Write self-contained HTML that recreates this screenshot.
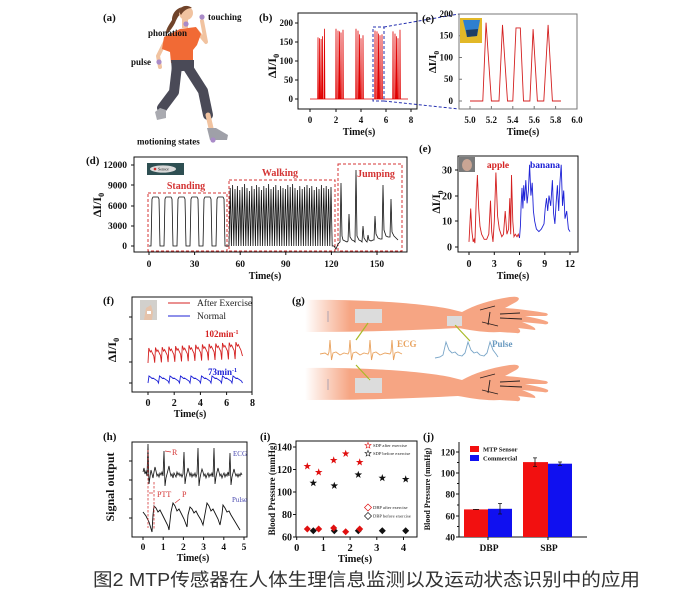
<!DOCTYPE html>
<html><head><meta charset="utf-8"><style>
html,body{margin:0;padding:0;background:#fff;}
svg{display:block;}
.s{font-family:"Liberation Serif",serif;font-weight:bold;fill:#111;}
.r{font-family:"Liberation Serif",serif;fill:#222;}
</style></head><body>
<svg width="696" height="597" viewBox="0 0 696 597" xmlns="http://www.w3.org/2000/svg">
<defs>
<path id="star" d="M0,-4 L0.94,-1.29 L3.8,-1.24 L1.52,0.49 L2.35,3.24 L0,1.6 L-2.35,3.24 L-1.52,0.49 L-3.8,-1.24 L-0.94,-1.29 Z"/>
<path id="dia" d="M0,-3.5 L3.5,0 L0,3.5 L-3.5,0 Z"/>
<pattern id="dots" width="2" height="2" patternUnits="userSpaceOnUse"><rect width="2" height="2" fill="#f2f2f2"/><circle cx="1" cy="1" r="0.45" fill="#707070"/></pattern>
<linearGradient id="fade" x1="305" y1="0" x2="350" y2="0" gradientUnits="userSpaceOnUse"><stop offset="0" stop-color="#F6A583" stop-opacity="0"/><stop offset="1" stop-color="#F6A583" stop-opacity="1"/></linearGradient>
</defs>
<rect width="696" height="597" fill="#fff"/>

<!-- ===== (a) runner ===== -->
<text class="s" x="103" y="21" font-size="11">(a)</text>
<path d="M183,7 C176,8 172,14 172,20 C169,25 165,30 166,35 C170,31 173,27 175,23 C177,18 179,14 184,12 Z" fill="#70432A"/>
<circle cx="186" cy="13" r="7" fill="#F1C3A0"/>
<path d="M179,12 C180,6 187,4 192,8 C188,8 184,10 181,15 Z" fill="#70432A"/>
<rect x="182" y="19" width="6" height="9" fill="#F1C3A0"/>
<path d="M196,30 L206,42 L202,21" fill="none" stroke="#F1C3A0" stroke-width="4" stroke-linecap="round" stroke-linejoin="round"/>
<path d="M166,40 L158,56 L160,67" fill="none" stroke="#F1C3A0" stroke-width="4" stroke-linecap="round" stroke-linejoin="round"/>
<path d="M164,37 L180,29 L196,27 L201,34 L197,45 L193,50 L193,63 L171,63 L170,52 L162,49 Z" fill="#F16A35"/>
<path d="M177,66 L174,92 L162,108" fill="none" stroke="#4A4A57" stroke-width="10" stroke-linecap="round" stroke-linejoin="round"/>
<path d="M187,66 L203,91 L208,115" fill="none" stroke="#4A4A57" stroke-width="10" stroke-linecap="round" stroke-linejoin="round"/>
<path d="M171,60 L194,60 L194,70 L172,72 Z" fill="#4A4A57"/>
<path d="M208,115 L211,128" stroke="#F1C3A0" stroke-width="5" stroke-linecap="round"/>
<path d="M160,108 L155,112 L157,120 L166,118 L166,110 Z" fill="#A9AAB0"/>
<path d="M207,128 L210,140 L227,140 L228,135 L216,128 Z" fill="#9FA0A8"/>
<circle cx="202" cy="17" r="2.6" fill="#A98BC8"/>
<circle cx="186" cy="24" r="2.6" fill="#A98BC8"/>
<circle cx="159" cy="62" r="2.6" fill="#A98BC8"/>
<circle cx="213" cy="140" r="2.6" fill="#A98BC8"/>
<text class="s" x="208" y="20" font-size="9">touching</text>
<text class="s" x="148" y="36" font-size="9">phonation</text>
<text class="s" x="131" y="65" font-size="9">pulse</text>
<text class="s" x="137" y="144.5" font-size="9">motioning states</text>

<!-- ===== (b) ===== -->
<text class="s" x="259" y="21" font-size="11">(b)</text>
<rect x="298" y="13" width="119" height="96" fill="none" stroke="#111" stroke-width="1"/>
<g stroke="#111" stroke-width="1">
<path d="M310,109v3M336,109v3M361,109v3M386,109v3M411,109v3M298,23h-3M298,42h-3M298,61h-3M298,80h-3M298,99h-3"/>
</g>
<g class="s" font-size="9" text-anchor="end">
<text x="293" y="26">200</text><text x="293" y="45">150</text><text x="293" y="64">100</text><text x="293" y="83">50</text><text x="293" y="102">0</text>
</g>
<g class="s" font-size="9" text-anchor="middle">
<text x="310" y="123">0</text><text x="336" y="123">2</text><text x="361" y="123">4</text><text x="386" y="123">6</text><text x="411" y="123">8</text>
<text x="359" y="135" font-size="10">Time(s)</text>
</g>
<text class="s" font-size="12" text-anchor="middle" transform="translate(276,66) rotate(-90)">ΔI/I<tspan dy="3" font-size="8">0</tspan></text>
<path fill="none" stroke="#E00000" stroke-width="0.8" d="M310,99 L317.7,99 L318,37.4 L318.4,99 L319.3,99 L319.6,38.2 L320,99 L320.8,99 L321.1,39 L321.5,99 L322.3,99 L322.6,36.3 L323,99 L324.2,99 L324.5,28.7 L324.9,99
L335.7,99 L336,28.7 L336.4,99 L337.7,99 L338,30.6 L338.4,99 L339.2,99 L339.5,31.4 L339.9,99 L340.7,99 L341,32.5 L341.4,99 L342.7,99 L343,29.8 L343.4,99
L355.7,99 L356,28.7 L356.4,99 L357.7,99 L358,30.6 L358.4,99 L359.2,99 L359.5,34.4 L359.9,99 L360.7,99 L361,38.2 L361.4,99 L362.7,99 L363,35.2 L363.4,99
L374.7,99 L375,30.6 L375.4,99 L376.7,99 L377,31.4 L377.4,99 L378.2,99 L378.5,33.6 L378.9,99 L379.7,99 L380,35.2 L380.4,99 L381.7,99 L382,34.4 L382.4,99
L392.7,99 L393,31.4 L393.4,99 L394.7,99 L395,33.6 L395.4,99 L396.2,99 L396.5,36.3 L396.9,99 L397.7,99 L398,38.2 L398.4,99 L399.7,99 L400,29.8 L400.4,99 L408,99"/>
<rect x="373" y="27" width="11" height="74" fill="none" stroke="#2530B0" stroke-width="1" stroke-dasharray="3,2"/>
<path d="M384,27 L459,14 M384,101 L459,109" stroke="#2530B0" stroke-width="1" stroke-dasharray="3,2" fill="none"/>

<!-- ===== (e) top zoom ===== -->
<text class="s" x="422" y="22" font-size="11">(e)</text>
<rect x="459" y="14" width="118" height="95" fill="none" stroke="#777" stroke-width="1"/>
<g stroke="#777" stroke-width="1"><path d="M470,109v-3M491.4,109v-3M512.8,109v-3M534.2,109v-3M555.6,109v-3M459,14h3M459,35.75h3M459,57.5h3M459,79.25h3M459,101h3"/></g>
<g class="s" font-size="9" text-anchor="end">
<text x="453" y="17">200</text><text x="453" y="38.5">150</text><text x="453" y="60.5">100</text><text x="453" y="82">50</text><text x="453" y="104">0</text>
</g>
<g class="s" font-size="9" text-anchor="middle">
<text x="470" y="123">5.0</text><text x="491.4" y="123">5.2</text><text x="512.8" y="123">5.4</text><text x="534.2" y="123">5.6</text><text x="555.6" y="123">5.8</text><text x="577" y="123">6.0</text>
<text x="523" y="135" font-size="10">Time(s)</text>
</g>
<text class="s" font-size="11" text-anchor="middle" transform="translate(436,62) rotate(-90)">ΔI/I<tspan dy="3" font-size="7.5">0</tspan></text>
<rect x="460" y="18" width="22" height="25" fill="#E2B828"/>
<path d="M463,20 L480,20 L477,36 L467,37 Z" fill="#2E7FD0"/>
<path d="M466,30 L478,29 L477,36 L467,37 Z" fill="#1D3E66"/>
<path fill="none" stroke="#D42020" stroke-width="0.9" d="M470,101 L482.8,101 L486.05,22.7 L491.4,101 L499,101 L502.5,24.9 L507.5,101 L512.8,101 L516,27.9 L520.3,27.9 L523.5,101 L529.9,101 L533.1,29.2 L537.4,101 L543.8,101 L548.1,24.9 L552.4,101 L561,101"/>

<!-- ===== (d) ===== -->
<text class="s" x="86" y="164" font-size="11">(d)</text>
<rect x="134" y="157" width="273" height="95" fill="none" stroke="#111" stroke-width="1"/>
<g stroke="#111" stroke-width="1"><path d="M149,252v3M194.6,252v3M240.2,252v3M285.8,252v3M331.4,252v3M377,252v3M134,165h-3M134,185h-3M134,206h-3M134,226h-3M134,246h-3"/></g>
<g class="s" font-size="9.5" text-anchor="end">
<text x="127" y="168">12000</text><text x="127" y="188.5">9000</text><text x="127" y="209">6000</text><text x="127" y="229">3000</text><text x="127" y="249">0</text>
</g>
<g class="s" font-size="9.5" text-anchor="middle">
<text x="149" y="267">0</text><text x="194.6" y="267">30</text><text x="240.2" y="267">60</text><text x="285.8" y="267">90</text><text x="331.4" y="267">120</text><text x="377" y="267">150</text>
<text x="265" y="279" font-size="10">Time(s)</text>
</g>
<text class="s" font-size="12" text-anchor="middle" transform="translate(101,205) rotate(-90)">ΔI/I<tspan dy="3" font-size="8">0</tspan></text>
<rect x="147" y="163" width="37" height="12" fill="#2E4F52"/>
<ellipse cx="163" cy="169" rx="13" ry="3.6" fill="#DADADA"/>
<circle cx="155" cy="169" r="1.3" fill="#D03030"/>
<text class="r" x="158" y="170.5" font-size="4">Sensor</text>
<g fill="none" stroke="#D43535" stroke-width="1" stroke-dasharray="3,2">
<rect x="148" y="193" width="79" height="58"/>
<rect x="229" y="180" width="106" height="71"/>
<rect x="338" y="164" width="64" height="87"/>
</g>
<g class="s" font-size="10" text-anchor="middle" style="fill:#D43535">
<text x="186" y="189" style="fill:#D43535">Standing</text><text x="280" y="176" style="fill:#D43535">Walking</text><text x="376" y="177" style="fill:#D43535">Jumping</text>
</g>
<path fill="none" stroke="#111" stroke-width="0.8" d="M149,246 L151,246 L152,199 L153,197 L158,197 L159,199 L160,246 L164,246 L165,199 L166,197 L171,197 L172,199 L173,246 L177,246 L178,199 L179,197 L184,197 L185,199 L186,246 L190,246 L191,199 L192,197 L197,197 L198,199 L199,246 L203,246 L204,199 L205,197 L210,197 L211,199 L212,246 L216,246 L217,199 L218,197 L223,197 L224,199 L225,246 L229,246"/>
<path fill="none" stroke="#111" stroke-width="0.8" d="M229,246 l1.2,-58 l1.2,58 l1.2,-61 l1.2,61 l1.2,-57 l1.2,57 l1.2,-60 l1.2,60 l1.2,-56 l1.2,56 l1.2,-59 l1.2,59 l1.2,-62 l1.2,62 l1.2,-58 l1.2,58 l1.2,-55 l1.2,55 l1.2,-60 l1.2,60 l1.2,-57 l1.2,57 l1.2,-61 l1.2,61 l1.2,-59 l1.2,59 l1.2,-56 l1.2,56 l1.2,-60 l1.2,60 l1.2,-58 l1.2,58 l1.2,-62 l1.2,62 l1.2,-57 l1.2,57 l1.2,-59 l1.2,59 l1.2,-61 l1.2,61 l1.2,-56 l1.2,56 l1.2,-60 l1.2,60 l1.2,-58 l1.2,58 l1.2,-57 l1.2,57 l1.2,-61 l1.2,61 l1.2,-59 l1.2,59 l1.2,-62 l1.2,62 l1.2,-58 l1.2,58 l1.2,-56 l1.2,56 l1.2,-60 l1.2,60 l1.2,-57 l1.2,57 l1.2,-59 l1.2,59 l1.2,-61 l1.2,61 l1.2,-58 l1.2,58 l1.2,-60 l1.2,60 l1.2,-56 l1.2,56 l1.2,-59 l1.2,59 l1.2,-57 l1.2,57 l1.2,-61 l1.2,61 l1.2,-58 l1.2,58 l1.2,-60 l1.2,60 l1.2,-57 l1.2,57 l1.2,-59 l1.2,59 l2,0"/>
<path fill="none" stroke="#111" stroke-width="0.8" d="M334,246 L336,249 L338,244 L340,242 L341,183 L342,236 L343,240 L345,241 L347,242 L348,241 L349,214 L350,237 L352,240 L354,241 L355,242 L356,170 L357,236 L359,240 L361,241 L362,242 L363,226 L364,238 L366,241 L367,242 L368,235 L369,240 L371,241 L373,240 L374,240 L375,216 L376,234 L378,238 L380,239 L382,239 L383,185 L384,230 L386,236 L388,237 L390,237 L391,199 L392,232 L394,236 L396,238 L398,240"/>

<!-- ===== (e) food ===== -->
<text class="s" x="419" y="152" font-size="11">(e)</text>
<rect x="458" y="156" width="120" height="96" fill="none" stroke="#111" stroke-width="1"/>
<g stroke="#111" stroke-width="1"><path d="M469,252v3M494.3,252v3M519.5,252v3M544.8,252v3M570,252v3M458,170h-3M458,196h-3M458,221h-3M458,247h-3"/></g>
<g class="s" font-size="10" text-anchor="end">
<text x="452" y="173.5">30</text><text x="452" y="199.5">20</text><text x="452" y="224.5">10</text><text x="452" y="250.5">0</text>
</g>
<g class="s" font-size="10" text-anchor="middle">
<text x="469" y="267">0</text><text x="494.3" y="267">3</text><text x="519.5" y="267">6</text><text x="544.8" y="267">9</text><text x="570" y="267">12</text>
<text x="513" y="279" font-size="10">Time(s)</text>
</g>
<text class="s" font-size="11.5" text-anchor="middle" transform="translate(440,202) rotate(-90)">ΔI/I<tspan dy="3" font-size="7.5">0</tspan></text>
<rect x="459" y="157" width="16" height="15" fill="#7A7A7A"/>
<ellipse cx="467" cy="165" rx="5" ry="6" fill="#C9A594"/>
<text class="s" x="498" y="168" font-size="9.5" text-anchor="middle" style="fill:#D42020">apple</text>
<text class="s" x="545" y="168" font-size="9.5" text-anchor="middle" style="fill:#1E22D6">banana</text>
<path fill="none" stroke="#D42020" stroke-width="0.9" d="M469,241.9 L470.7,208.5 L471.9,231.6 L473.2,241.9 L474.1,239.3 L474.9,243.1 L476.2,200.7 L477.4,175 L478.7,208.5 L480,226.4 L481.6,234.2 L484.2,239.3 L486.7,239.3 L488.8,234.2 L490.5,200.7 L491.7,231.6 L493,241.9 L494.3,221.3 L495.9,172.5 L497.6,216.2 L499.3,229 L501.8,236.7 L503.5,234.2 L505.2,211 L506.9,234.2 L508.6,229 L509.8,198.2 L510.7,234.2 L511.5,175 L512.8,221.3 L514,236.7 L515.3,234.2 L517,236.7 L518.3,234.2 L519.5,238"/>
<path fill="none" stroke="#1E22D6" stroke-width="0.9" d="M519.5,238 L520.4,226.4 L521.2,203.3 L522,187.9 L522.9,208.5 L523.7,185.3 L524.6,200.7 L525.8,180.2 L527.1,203.3 L528.4,190.5 L529.6,164.8 L530.9,195.6 L532.2,182.8 L533.4,211 L534.7,221.3 L536.4,229 L538.9,231.6 L541.4,229 L544,223.9 L545.2,208.5 L546.5,198.2 L547.7,211 L549,195.6 L550.7,205.9 L552.4,180.2 L553.6,213.6 L554.9,223.9 L556.1,203.3 L557.4,185.3 L558.7,211 L559.9,182.8 L561.2,164.8 L562.5,205.9 L563.7,190.5 L565,218.7 L566.7,211 L568.4,229 L570,231.6"/>

<!-- ===== (f) ===== -->
<text class="s" x="103" y="304" font-size="11">(f)</text>
<rect x="132" y="297" width="120" height="95" fill="none" stroke="#111" stroke-width="1"/>
<g stroke="#111" stroke-width="1"><path d="M148,392v3M174.2,392v3M200.4,392v3M226.6,392v3M252,392v3M132,317h-3M132,339h-3M132,362h-3M132,383h-3"/></g>
<g class="s" font-size="10" text-anchor="middle">
<text x="148" y="406">0</text><text x="174.2" y="406">2</text><text x="200.4" y="406">4</text><text x="226.6" y="406">6</text><text x="252.5" y="406">8</text>
<text x="190" y="417" font-size="10">Time(s)</text>
</g>
<text class="s" font-size="12" text-anchor="middle" transform="translate(116,350) rotate(-90)">ΔI/I<tspan dy="3" font-size="8">0</tspan></text>
<rect x="140" y="300" width="17" height="20" fill="#D2D0CC"/>
<path d="M144,320 L146,308 L151,305 L153,312 L152,320 Z" fill="#E6C3AA"/>
<rect x="147" y="311" width="4" height="3" fill="#fff"/>
<path d="M168,303 H190" stroke="#D42020" stroke-width="1"/>
<path d="M168,316 H190" stroke="#1E22D6" stroke-width="1"/>
<text class="r" x="197" y="306" font-size="9.5">After Exercise</text>
<text class="r" x="197" y="319" font-size="9.5">Normal</text>
<text class="s" x="205" y="337" font-size="9" style="fill:#D42020">102min<tspan dy="-3" font-size="6">-1</tspan></text>
<text class="s" x="208" y="375" font-size="9" style="fill:#1E22D6">73min<tspan dy="-3" font-size="6">-1</tspan></text>
<path fill="none" stroke="#D42020" stroke-width="0.9" d="M148,363 L148.8,348 L150.2,352 L151.2,350.5 L152.8,354 L153.8,356 L154.7,362.7 L155.5,347.5 L156.9,351.5 L157.9,350 L159.5,353.5 L160.5,355.5 L161.4,362.4 L162.2,347.1 L163.6,351.1 L164.6,349.6 L166.2,353.1 L167.2,355.1 L168.1,362.1 L168.9,346.6 L170.3,350.6 L171.3,349.1 L172.9,352.6 L173.9,354.6 L174.8,361.8 L175.6,346.2 L177,350.2 L178,348.7 L179.6,352.2 L180.6,354.2 L181.5,361.5 L182.3,345.7 L183.7,349.7 L184.7,348.2 L186.3,351.7 L187.3,353.7 L188.2,361.2 L189,345.3 L190.4,349.3 L191.4,347.8 L193,351.3 L194,353.3 L194.9,360.9 L195.7,344.8 L197.1,348.8 L198.1,347.3 L199.7,350.8 L200.7,352.8 L201.6,360.6 L202.4,344.4 L203.8,348.4 L204.8,346.9 L206.4,350.4 L207.4,352.4 L208.3,360.3 L209.1,343.9 L210.5,347.9 L211.5,346.4 L213.1,349.9 L214.1,351.9 L215,360 L215.8,343.5 L217.2,347.5 L218.2,346 L219.8,349.5 L220.8,351.5 L221.7,359.7 L222.5,343 L223.9,347 L224.9,345.5 L226.5,349 L227.5,351 L228.4,359.4 L229.2,342.6 L230.6,346.6 L231.6,345.1 L233.2,348.6 L234.2,350.6 L235.1,359.1 L235.9,342.1 L237.3,346.1 L238.3,344.6 L239.9,348.1 L240.9,350.1 L242.5,356"/>
<path fill="none" stroke="#1E22D6" stroke-width="0.9" d="M148,383 L149,376 L151,377.5 L152,378.5 L153,378 L156,380 L157.5,381 L158.5,383 L159.5,376 L161.5,377.5 L162.5,378.5 L163.5,378 L166.5,380 L168,381 L169,383 L170,376 L172,377.5 L173,378.5 L174,378 L177,380 L178.5,381 L179.5,383 L180.5,376 L182.5,377.5 L183.5,378.5 L184.5,378 L187.5,380 L189,381 L190,383 L191,376 L193,377.5 L194,378.5 L195,378 L198,380 L199.5,381 L200.5,383 L201.5,376 L203.5,377.5 L204.5,378.5 L205.5,378 L208.5,380 L210,381 L211,383 L212,376 L214,377.5 L215,378.5 L216,378 L219,380 L220.5,381 L221.5,383 L222.5,376 L224.5,377.5 L225.5,378.5 L226.5,378 L229.5,380 L231,381 L232,383 L233,376 L235,377.5 L236,378.5 L237,378 L240,380 L241.5,381 L242.5,383"/>

<!-- ===== (g) ===== -->
<text class="s" x="292" y="304" font-size="11">(g)</text>
<g id="arm">
<path fill="url(#fade)" d="M305,300 C360,299 420,303 450,309 L462,312 C475,305 490,300 510,297 C518,296 522,298 516,302 L505,308 C520,309 535,311 546,313 C549,314 548,316 545,316 L525,316 C535,318 545,320 548,322 C549,324 546,325 543,324 L522,322 C530,325 537,328 535,330 L518,328 C522,331 520,334 516,333 L500,332 C485,333 470,330 458,328 C420,330 370,332 305,332 Z"/>
<path fill="none" stroke="#2A2020" stroke-width="0.9" d="M480,310 L495,306 M482,322 L498,326 M490,312 L488,325 M500,314 L520,313 M500,318 L522,319"/>
</g>
<use href="#arm" transform="translate(0,68)"/>
<path d="M328,311 V322 M328,379 V390" stroke="#9A9AB0" stroke-width="0.8"/>
<rect x="355" y="309" width="27" height="14" fill="url(#dots)"/>
<rect x="447" y="316" width="15" height="10" fill="url(#dots)"/>
<rect x="355" y="378" width="27" height="15" fill="url(#dots)"/>
<path d="M368,323 L356,340 M356,365 L370,380 M455,325 L470,341" stroke="#A8BA28" stroke-width="1.2"/>
<path fill="none" stroke="#E9A35F" stroke-width="0.9" d="M320,354 L325,353 L328,355 L329,352 L330,340 L331.5,360 L333,353 L336,352 L340,355 L344,353 L348,354 L349,352 L350,340 L351.5,360 L353,353 L356,352 L360,355 L364,353 L368,354 L369,352 L370,340 L371.5,360 L373,353 L376,352 L380,355 L385,353 L390,354 L391,352 L392,340 L393.5,360 L395,353 L398,352 L402,354"/>
<text class="s" x="397" y="347" font-size="9" style="fill:#E9A35F">ECG</text>
<path fill="none" stroke="#7AA6C8" stroke-width="0.9" d="M435,358 L440,357 L443,355 L446,342 L449,350 L452,353 L455,352 L458,355 L462,356 L465,353 L468,342 L471,350 L474,353 L477,352 L480,355 L484,356 L487,353 L490,342 L493,350 L496,354 L498,357"/>
<text class="s" x="492" y="347" font-size="9" style="fill:#6A9AC0">Pulse</text>

<!-- ===== (h) ===== -->
<text class="s" x="103" y="440" font-size="11">(h)</text>
<rect x="132" y="442" width="115" height="95" fill="none" stroke="#111" stroke-width="1"/>
<g stroke="#111" stroke-width="1"><path d="M143,537v3M163.2,537v3M183.4,537v3M203.6,537v3M223.8,537v3M244,537v3M132,461h-3M132,480h-3M132,499h-3M132,518h-3"/></g>
<g class="s" font-size="9.5" text-anchor="middle">
<text x="143" y="550">0</text><text x="163.2" y="550">1</text><text x="183.4" y="550">2</text><text x="203.6" y="550">3</text><text x="223.8" y="550">4</text><text x="244" y="550">5</text>
<text x="193" y="561" font-size="10">Time(s)</text>
</g>
<text class="s" font-size="12" text-anchor="middle" transform="translate(114,487) rotate(-90)">Signal output</text>
<path fill="none" stroke="#111" stroke-width="0.8" d="M143,472 L144,468 L145,474 L146,471 L147,476 L148,444 L149,484 L150,477 L151,470 L152,474 L153,478 L154,472 L155,467 L156,471 L157,476 L158,474 L159,477 L160,473 L161,475 L162,472 L163,476 L164,451 L165,486 L166,478 L167,474 L168,470 L169,466 L170,472 L171,476 L172,474 L173,478 L174,473 L175,475 L176,477 L177,472 L178,475 L179,473 L180,476 L181,474 L182,477 L183,474 L184,452 L185,484 L186,477 L187,473 L188,468 L189,472 L190,476 L191,473 L192,477 L193,474 L194,476 L195,473 L196,477 L197,474 L198,448 L199,486 L200,478 L201,473 L202,469 L203,472 L204,476 L205,474 L206,478 L207,475 L208,473 L209,477 L210,474 L211,476 L212,473 L213,477 L214,448 L215,484 L216,477 L217,472 L218,468 L219,472 L220,476 L221,474 L222,478 L223,475 L224,473 L225,477 L226,474 L227,476 L228,472 L229,476 L230,453 L231,485 L232,477 L233,473 L234,469 L235,473 L236,476 L237,474 L238,477 L239,474 L240,476 L241,473 L242,475"/>
<path fill="none" stroke="#111" stroke-width="0.9" d="M143,512 L146,516 L149,522 L152,532 L153,515 L154,506 L156,508 L158,512 L160,510 L162,514 L165,520 L168,526 L169,530 L171,512 L173,503 L175,506 L177,511 L179,509 L181,513 L184,519 L187,527 L188,515 L190,507 L192,509 L194,513 L196,511 L198,515 L201,520 L203,525 L205,514 L207,503 L209,506 L211,511 L213,509 L215,513 L218,519 L220,525 L222,514 L223,505 L225,508 L227,512 L229,511 L231,515 L234,520 L237,525 L240,530"/>
<path d="M148,450 V528 M154,482 V530" stroke="#D43535" stroke-width="0.8" stroke-dasharray="2.5,1.5"/>
<path d="M149,493 H153 M165,451 L171,452 M180,499 L175,503" stroke="#D43535" stroke-width="0.7"/>
<text class="r" x="172" y="455" font-size="8" style="fill:#D43535">R</text>
<text class="r" x="157" y="497" font-size="8" style="fill:#D43535">PTT</text>
<text class="r" x="182" y="497" font-size="8" style="fill:#D43535">P</text>
<text class="r" x="233" y="456" font-size="7" style="fill:#4A4AB0">ECG</text>
<text class="r" x="232" y="502" font-size="7" style="fill:#4A4AB0">Pulse</text>

<!-- ===== (i) ===== -->
<text class="s" x="260" y="440" font-size="11">(i)</text>
<rect x="296" y="441" width="121" height="96" fill="none" stroke="#111" stroke-width="1"/>
<g stroke="#111" stroke-width="1"><path d="M296.7,537v3M323.4,537v3M350.1,537v3M376.8,537v3M403.5,537v3M296,447h-3M296,469.5h-3M296,492h-3M296,514.5h-3M296,537h-3"/></g>
<g class="s" font-size="10" text-anchor="end">
<text x="292" y="450.5">140</text><text x="292" y="473">120</text><text x="292" y="495.5">100</text><text x="292" y="518">80</text><text x="292" y="540.5">60</text>
</g>
<g class="s" font-size="10.5" text-anchor="middle">
<text x="296.7" y="551">0</text><text x="323.4" y="551">1</text><text x="350.1" y="551">2</text><text x="376.8" y="551">3</text><text x="403.5" y="551">4</text>
<text x="355" y="562" font-size="10.5">Time(s)</text>
</g>
<text class="s" font-size="9" text-anchor="middle" transform="translate(275,489) rotate(-90)">Blood Pressure (mmHg)</text>
<g fill="#E01010">
<use href="#star" x="307.3" y="466.3"/><use href="#star" x="318.7" y="472.3"/><use href="#star" x="333.7" y="460.3"/><use href="#star" x="345.7" y="453.7"/><use href="#star" x="359.7" y="462.3"/>
</g>
<g fill="#111">
<use href="#star" x="313.3" y="483"/><use href="#star" x="334.3" y="485.7"/><use href="#star" x="358.3" y="474.7"/><use href="#star" x="382.3" y="478"/><use href="#star" x="405.7" y="479.3"/>
</g>
<g fill="#111">
<use href="#dia" x="313.3" y="530.7"/><use href="#dia" x="334.3" y="530.7"/><use href="#dia" x="358.3" y="530.7"/><use href="#dia" x="382.3" y="530.7"/><use href="#dia" x="405.7" y="530.7"/>
</g>
<g fill="#E01010">
<use href="#dia" x="307.3" y="529"/><use href="#dia" x="318.7" y="529"/><use href="#dia" x="333.7" y="528"/><use href="#dia" x="345.7" y="531.7"/><use href="#dia" x="359.7" y="529"/>
</g>
<g fill="none" stroke-width="0.7">
<use href="#star" x="368" y="445.5" stroke="#E01010" transform="translate(368,445.5) scale(0.8) translate(-368,-445.5)"/>
<use href="#star" x="368" y="453.5" stroke="#111" transform="translate(368,453.5) scale(0.8) translate(-368,-453.5)"/>
<use href="#dia" x="368" y="507.5" stroke="#E01010"/>
<use href="#dia" x="368" y="516" stroke="#111"/>
</g>
<g class="r" font-size="4.6">
<text x="373" y="447">SDP after exercise</text><text x="373" y="455">SDP before exercise</text>
<text x="373" y="509">DBP after exercise</text><text x="373" y="517.5">DBP before exercise</text>
</g>

<!-- ===== (j) ===== -->
<text class="s" x="423" y="440" font-size="11">(j)</text>
<path d="M459,442 V537 H587" fill="none" stroke="#111" stroke-width="1"/>
<g stroke="#111" stroke-width="1"><path d="M459,452h-3M459,473h-3M459,494h-3M459,516h-3M459,537h-3M459,462.5h-2M459,483.5h-2M459,505h-2M459,526.5h-2M488,537v3M548,537v3"/></g>
<g class="s" font-size="9.5" text-anchor="end">
<text x="455" y="455.5">120</text><text x="455" y="476.5">100</text><text x="455" y="497.5">80</text><text x="455" y="519.5">60</text><text x="455" y="540.5">40</text>
</g>
<g class="s" font-size="9.5" text-anchor="middle">
<text x="489" y="551">DBP</text><text x="549" y="551">SBP</text>
</g>
<text class="s" font-size="8" text-anchor="middle" transform="translate(430,489) rotate(-90)">Blood Pressure (mmHg)</text>
<rect x="464" y="509.4" width="24" height="27.6" fill="#F21010"/>
<rect x="488" y="508.8" width="24" height="28.2" fill="#1010F0"/>
<rect x="523" y="462.1" width="25" height="74.9" fill="#F21010"/>
<rect x="548" y="463.7" width="24" height="73.3" fill="#1010F0"/>
<g stroke="#111" stroke-width="0.8">
<path d="M476,509 V510 M473,509.4 H479"/>
<path d="M500,503.5 V514 M498,503.5 H502 M498,514 H502"/>
<path d="M535,457.9 V466.4 M533,457.9 H537 M533,466.4 H537"/>
<path d="M560,462 V465.4 M558,462 H562 M558,465.4 H562"/>
</g>
<rect x="470" y="446" width="9" height="6" fill="#F21010"/>
<rect x="470" y="455" width="9" height="6" fill="#1010F0"/>
<text class="s" x="483" y="451.5" font-size="6.5">MTP Sensor</text>
<text class="s" x="483" y="460.5" font-size="6.5">Commercial</text>

<!-- ===== caption ===== -->
<text x="93" y="586" font-family="'Liberation Sans','Noto Sans CJK SC',sans-serif" font-size="18.3" fill="#333" textLength="547" lengthAdjust="spacingAndGlyphs">图2 MTP传感器在人体生理信息监测以及运动状态识别中的应用</text>
</svg>
</body></html>
